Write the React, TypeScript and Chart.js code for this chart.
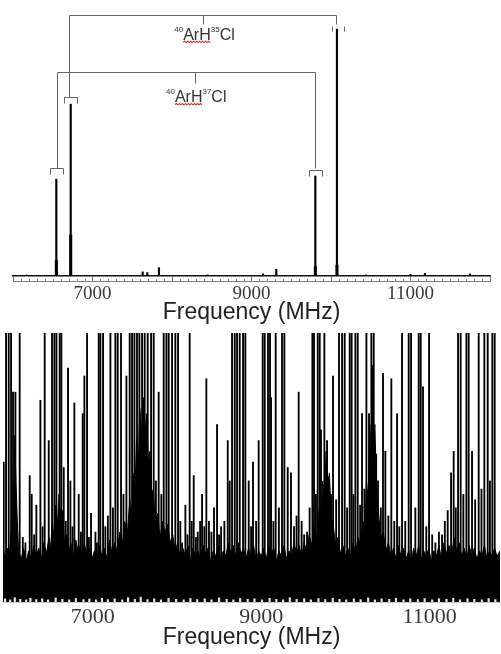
import { useEffect, useRef } from "react";
import { Chart, registerables } from "chart.js";

Chart.register(...registerables);

// ---------- Upper panel: ArHCl rotational lines ----------
// [frequency MHz, relative intensity]
const overviewPeaks: [number, number][] = [
  [6545, 37.2],
  [6726, 66.0],
  [9803, 38.4],
  [10075, 94.8],
];
// broadened feet of the strong lines
const overviewFeet: [number, number][] = [
  [6545, 6.1],
  [6726, 15.7],
  [9803, 3.6],
  [10075, 4.2],
];
// weak features along the baseline
const overviewWeak: [number, number][] = [
  [6172, 0.4],
  [7631, 1.6],
  [7689, 1.3],
  [7836, 3.2],
  [8449, 0.4],
  [9145, 0.8],
  [9312, 2.6],
  [10440, 0.4],
  [11000, 0.6],
  [11182, 1.0],
  [11748, 0.8],
];
const overviewTickLabels = [7000, 9000, 11000];

// ---------- Lower panel: full survey scan ----------
// [frequency MHz, relative intensity]; lines above 100 run off the top
const surveyLines: [number, number][] = [
  [5924, 120], [5944, 52], [5971, 120], [6003, 120], [6031, 120], [6054, 78], [6082, 78], [6133, 120],
  [6170, 24], [6201, 22], [6252, 47], [6276, 40], [6305, 25], [6331, 36], [6379, 75], [6405, 28],
  [6430, 120], [6478, 60], [6517, 120], [6545, 120], [6569, 120], [6608, 120], [6628, 120], [6656, 50],
  [6680, 30], [6707, 87], [6735, 45], [6760, 28], [6782, 74], [6834, 40], [6860, 26], [6881, 70],
  [6901, 84], [6933, 120], [6955, 24], [6980, 33], [7032, 26], [7050, 22], [7071, 120], [7091, 120],
  [7123, 120], [7150, 28], [7180, 32], [7210, 120], [7240, 35], [7269, 120], [7297, 120], [7336, 120],
  [7365, 40], [7400, 84], [7439, 120], [7467, 120], [7495, 120], [7526, 120], [7554, 120], [7586, 120],
  [7617, 120], [7653, 120], [7693, 120], [7724, 120], [7750, 45], [7783, 78], [7815, 40], [7843, 120],
  [7875, 120], [7902, 120], [7942, 120], [7981, 120], [8013, 120], [8040, 30], [8061, 22], [8100, 36],
  [8125, 25], [8151, 120], [8175, 30], [8199, 47], [8225, 24], [8247, 26], [8275, 30], [8298, 40],
  [8325, 28], [8349, 83], [8380, 30], [8409, 26], [8440, 35], [8476, 66], [8500, 25], [8524, 28],
  [8563, 30], [8603, 60], [8626, 45], [8654, 120], [8686, 120], [8713, 120], [8745, 120], [8785, 120],
  [8812, 120], [8852, 45], [8880, 28], [8903, 52], [8940, 30], [8970, 60], [9018, 120], [9042, 120],
  [9081, 120], [9105, 120], [9117, 76], [9145, 30], [9172, 120], [9210, 35], [9247, 120], [9275, 120],
  [9315, 50], [9354, 48], [9390, 28], [9420, 32], [9445, 78], [9480, 30], [9510, 25], [9544, 26],
  [9575, 35], [9608, 120], [9627, 120], [9650, 40], [9671, 120], [9695, 120], [9710, 64], [9750, 120],
  [9782, 60], [9830, 40], [9853, 84], [9890, 38], [9924, 120], [9960, 120], [9991, 120], [10020, 35],
  [10051, 120], [10074, 120], [10095, 40], [10118, 120], [10146, 120], [10175, 36], [10197, 70], [10225, 42],
  [10249, 120], [10280, 70], [10308, 120], [10336, 120], [10365, 55], [10387, 45], [10420, 35], [10446, 85],
  [10474, 56], [10510, 32], [10545, 83], [10580, 30], [10613, 70], [10640, 28], [10672, 120], [10710, 30],
  [10751, 120], [10779, 120], [10830, 35], [10870, 120], [10894, 120], [10921, 80], [10960, 28], [10993, 120],
  [11030, 25], [11068, 22], [11110, 26], [11147, 25], [11180, 30], [11214, 34], [11254, 48], [11285, 56],
  [11310, 35], [11337, 120], [11368, 120], [11400, 40], [11436, 120], [11463, 120], [11503, 56], [11540, 38],
  [11582, 120], [11615, 42], [11649, 120], [11689, 120], [11715, 45], [11744, 120], [11772, 120],
];
// noise floor and the unresolved line clusters rising out of it
const surveyFloor: [number, number][] = [
  [5900, 17], [5930, 21], [5960, 16], [5990, 20], [6010, 17], [6035, 28], [6050, 45], [6065, 38],
  [6075, 62], [6090, 44], [6105, 30], [6120, 19], [6150, 16], [6180, 20], [6210, 15], [6240, 19],
  [6270, 16], [6300, 21], [6330, 17], [6360, 20], [6390, 16], [6420, 22], [6450, 18], [6480, 24],
  [6500, 20], [6520, 30], [6540, 24], [6560, 36], [6580, 28], [6600, 40], [6620, 31], [6640, 34],
  [6665, 22], [6690, 25], [6715, 19], [6740, 22], [6770, 17], [6800, 23], [6830, 18], [6850, 21],
  [6880, 16], [6900, 22], [6930, 17], [6960, 20], [6990, 16], [7020, 19], [7050, 15], [7080, 21],
  [7110, 17], [7140, 20], [7170, 16], [7200, 23], [7230, 18], [7260, 22], [7290, 19], [7320, 26],
  [7350, 21], [7380, 30], [7410, 25], [7440, 38], [7460, 30], [7480, 48], [7500, 40], [7520, 60],
  [7540, 50], [7560, 72], [7580, 60], [7600, 76], [7620, 62], [7640, 70], [7660, 52], [7680, 56],
  [7700, 40], [7720, 42], [7740, 30], [7770, 33], [7800, 24], [7830, 30], [7860, 26], [7890, 29],
  [7920, 22], [7950, 25], [7980, 19], [8010, 22], [8040, 16], [8070, 20], [8100, 17], [8130, 21],
  [8160, 15], [8190, 20], [8220, 17], [8250, 19], [8280, 16], [8310, 21], [8340, 18], [8370, 20],
  [8400, 15], [8430, 19], [8460, 17], [8490, 21], [8520, 16], [8550, 19], [8580, 17], [8610, 22],
  [8640, 18], [8670, 21], [8700, 17], [8730, 22], [8760, 18], [8790, 20], [8820, 16], [8850, 20],
  [8880, 17], [8910, 21], [8940, 15], [8970, 19], [9000, 17], [9030, 20], [9060, 16], [9090, 21],
  [9120, 18], [9150, 20], [9180, 15], [9210, 19], [9240, 17], [9270, 21], [9300, 16], [9330, 19],
  [9360, 17], [9390, 22], [9420, 18], [9450, 21], [9480, 17], [9510, 22], [9540, 19], [9570, 25],
  [9600, 21], [9630, 28], [9660, 24], [9690, 35], [9710, 30], [9730, 45], [9750, 38], [9770, 56],
  [9790, 44], [9810, 48], [9830, 32], [9850, 30], [9880, 22], [9910, 24], [9940, 18], [9970, 21],
  [10000, 17], [10030, 20], [10060, 17], [10090, 22], [10120, 18], [10150, 24], [10180, 21], [10210, 30],
  [10230, 26], [10250, 45], [10270, 38], [10290, 66], [10305, 55], [10320, 88], [10335, 62], [10350, 66],
  [10370, 40], [10390, 34], [10420, 24], [10450, 26], [10480, 19], [10510, 22], [10540, 17], [10570, 20],
  [10600, 16], [10630, 21], [10660, 17], [10690, 20], [10720, 16], [10750, 19], [10780, 15], [10810, 20],
  [10840, 17], [10870, 21], [10900, 16], [10930, 19], [10960, 17], [10990, 20], [11020, 15], [11050, 19],
  [11080, 17], [11110, 21], [11140, 16], [11170, 22], [11200, 18], [11230, 21], [11260, 17], [11290, 24],
  [11320, 19], [11350, 22], [11380, 17], [11410, 20], [11440, 16], [11470, 21], [11500, 17], [11530, 20],
  [11560, 16], [11590, 19], [11620, 17], [11650, 21], [11680, 16], [11710, 19], [11740, 17], [11770, 20],
  [11800, 17], [11835, 19],
];
// pale gaps where the noise dips to the baseline
const surveyDips: [number, number][] = [
  [5960, 1.2], [6020, 0.8], [6075, 1.6], [6140, 1.0], [6210, 0.8], [6260, 1.4], [6330, 0.9], [6400, 1.2],
  [6470, 0.8], [6560, 1.5], [6640, 1.0], [6720, 0.8], [6800, 1.3], [6890, 0.9], [6960, 1.1], [7040, 0.8],
  [7110, 1.4], [7180, 0.9], [7260, 1.2], [7350, 0.8], [7420, 1.6], [7500, 1.0], [7570, 1.8], [7650, 0.9],
  [7730, 1.2], [7810, 0.8], [7900, 1.4], [7990, 1.0], [8080, 0.8], [8160, 1.3], [8240, 0.9], [8330, 1.2],
  [8410, 0.8], [8500, 1.5], [8590, 1.0], [8670, 0.8], [8750, 1.3], [8840, 1.0], [8920, 1.2], [9010, 0.8],
  [9100, 1.4], [9180, 1.0], [9260, 0.8], [9340, 1.6], [9420, 1.0], [9510, 1.2], [9590, 0.8], [9680, 1.3],
  [9760, 0.9], [9850, 1.4], [9930, 1.0], [10010, 0.8], [10100, 1.2], [10180, 0.9], [10270, 1.5], [10350, 0.8],
  [10430, 1.2], [10520, 1.0], [10600, 1.4], [10690, 0.8], [10770, 1.2], [10860, 0.9], [10940, 1.3], [11030, 0.8],
  [11110, 1.2], [11200, 1.0], [11280, 1.4], [11360, 0.8], [11450, 1.2], [11530, 1.0], [11620, 0.8], [11700, 1.3],
  [11780, 0.9],
];
const surveyTickValues = [7000, 9000, 11000];

// ---------- Assignment brackets (frequency MHz / intensity units) ----------
type Tag = { from: number; to: number; top: number; foot: number; open?: boolean };
type Assignment = {
  isotope: string;
  left: number;
  right: number;
  level: number;
  stem: number;
  stemEnd: number;
  labelBase: number;
  leftTag: Tag;
  rightTag: Tag;
};
const assignments: Assignment[] = [
  {
    isotope: "35",
    left: 6709,
    right: 10063,
    level: 100.3,
    stem: 8390,
    stemEnd: 96.8,
    labelBase: 90.6,
    leftTag: { from: 6645, to: 6809, top: 68.6, foot: 66.4 },
    rightTag: { from: 10009, to: 10160, top: 96.0, foot: 94.1, open: true },
  },
  {
    isotope: "37",
    left: 6550,
    right: 9803,
    level: 78.3,
    stem: 8286,
    stemEnd: 74.2,
    labelBase: 66.7,
    leftTag: { from: 6469, to: 6633, top: 41.4, foot: 39.2 },
    rightTag: { from: 9723, to: 9887, top: 40.7, foot: 38.4 },
  },
];

const SERIF = "'Liberation Serif', 'Times New Roman', serif";
const SANS = "'Liberation Sans', Arial, sans-serif";

const toPoints = (rows: [number, number][]) => rows.map(([x, y]) => ({ x, y }));

// lower rail of the frequency axis with its 100 MHz minor ticks
const axisRail = {
  id: "axisRail",
  afterDraw(chart: any) {
    const { ctx, chartArea } = chart;
    const x = chart.scales.x;
    const y0 = Math.round(chartArea.bottom);
    ctx.save();
    ctx.strokeStyle = "#808080";
    ctx.lineWidth = 1;
    ctx.beginPath();
    ctx.moveTo(chartArea.left, y0 + 5.5);
    ctx.lineTo(chartArea.right, y0 + 5.5);
    for (const t of x.ticks) {
      if (t.value % 1000 === 0) continue;
      const px = Math.round(x.getPixelForValue(t.value)) + 0.5;
      ctx.moveTo(px, y0 + 3);
      ctx.lineTo(px, y0 + 5);
    }
    ctx.stroke();
    ctx.restore();
  },
};

function drawFormula(ctx: CanvasRenderingContext2D, cx: number, base: number, iso: string) {
  const big = `16px ${SANS}`;
  const small = `8px ${SANS}`;
  const parts = [
    { t: "40", sup: true },
    { t: "ArH", sup: false },
    { t: iso, sup: true },
    { t: "Cl", sup: false },
  ];
  const widths = parts.map((p) => {
    ctx.font = p.sup ? small : big;
    return ctx.measureText(p.t).width;
  });
  const total = widths.reduce((a, b) => a + b, 0);
  let x = cx - total / 2;
  ctx.fillStyle = "#333";
  ctx.textBaseline = "alphabetic";
  ctx.textAlign = "left";
  let span: [number, number] | null = null;
  parts.forEach((p, i) => {
    ctx.font = p.sup ? small : big;
    ctx.fillText(p.t, x, p.sup ? base - 8.5 : base);
    if (p.t === "ArH") span = [x, x + widths[i]];
    x += widths[i];
  });
  if (span) {
    // red wavy underline beneath "ArH"
    const [a, b] = span as [number, number];
    ctx.save();
    ctx.strokeStyle = "#e02828";
    ctx.lineWidth = 1.1;
    ctx.beginPath();
    let up = true;
    ctx.moveTo(a, base + 2.2);
    for (let px = a + 1.5; px <= b; px += 1.5) {
      ctx.lineTo(px, up ? base + 1.1 : base + 2.5);
      up = !up;
    }
    ctx.stroke();
    ctx.restore();
  }
}

// group brackets linking the components of each isotopologue, with labels
const assignmentBrackets = {
  id: "assignmentBrackets",
  afterDatasetsDraw(chart: any) {
    const { ctx } = chart;
    const xs = chart.scales.x;
    const ys = chart.scales.y;
    const X = (v: number) => Math.round(xs.getPixelForValue(v)) + 0.5;
    const Y = (v: number) => Math.round(ys.getPixelForValue(v)) + 0.5;
    for (const a of assignments) {
      ctx.save();
      ctx.strokeStyle = "#666";
      ctx.lineWidth = 1;
      ctx.beginPath();
      ctx.moveTo(X(a.left), Y(a.level));
      ctx.lineTo(X(a.right), Y(a.level));
      ctx.moveTo(X(a.stem), Y(a.level));
      ctx.lineTo(X(a.stem), Y(a.stemEnd));
      ctx.moveTo(X(a.left), Y(a.level));
      ctx.lineTo(X(a.left), Y(a.leftTag.top));
      ctx.moveTo(X(a.right), Y(a.level));
      ctx.lineTo(X(a.right), Y(a.rightTag.top) - 2);
      for (const t of [a.leftTag, a.rightTag]) {
        if (!t.open) {
          ctx.moveTo(X(t.from), Y(t.foot));
          ctx.lineTo(X(t.from), Y(t.top));
          ctx.lineTo(X(t.to), Y(t.top));
          ctx.lineTo(X(t.to), Y(t.foot));
        } else {
          ctx.moveTo(X(t.from), Y(t.top));
          ctx.lineTo(X(t.from), Y(t.foot));
          ctx.moveTo(X(t.to), Y(t.top));
          ctx.lineTo(X(t.to), Y(t.foot));
        }
      }
      ctx.stroke();
      ctx.restore();
      ctx.save();
      drawFormula(ctx, xs.getPixelForValue(a.stem) + 1.5, ys.getPixelForValue(a.labelBase), a.isotope);
      ctx.restore();
    }
  },
};

function OverviewPanel() {
  const ref = useRef<HTMLCanvasElement>(null);
  useEffect(() => {
    if (!ref.current) return;
    const chart = new Chart(ref.current, {
      type: "bar",
      data: {
        datasets: [
          { data: toPoints(overviewFeet) as any, backgroundColor: "#000", barThickness: 2.4, grouped: false },
          { data: toPoints(overviewPeaks) as any, backgroundColor: "#000", barThickness: 1.5, grouped: false },
          { data: toPoints(overviewWeak) as any, backgroundColor: "#000", barThickness: 1.5, grouped: false },
        ],
      },
      options: {
        animation: false,
        responsive: false,
        devicePixelRatio: 1,
        layout: { padding: { left: 13, right: 11, top: 0, bottom: 0 } },
        plugins: { legend: { display: false }, tooltip: { enabled: false } },
        scales: {
          x: {
            type: "linear",
            min: 6000,
            max: 12000,
            offset: false,
            grid: {
              offset: false,
              drawOnChartArea: false,
              drawTicks: true,
              tickLength: 6,
              tickWidth: 1,
              tickColor: (c: any) => (c.tick && c.tick.value % 1000 === 0 ? "#777" : "rgba(0,0,0,0)"),
            },
            border: { display: true, color: "#111", width: 1.6 },
            ticks: {
              stepSize: 100,
              autoSkip: false,
              maxRotation: 0,
              padding: 1,
              color: "#3a3a3a",
              font: { family: SERIF, size: 19 },
              callback: (v: any) => (overviewTickLabels.includes(Number(v)) ? String(v) : ""),
            },
            title: {
              display: true,
              text: "Frequency (MHz)",
              color: "#222",
              font: { family: SANS, size: 23 },
              padding: { top: 0, bottom: 4 },
            },
            afterFit: (s: any) => {
              s.height = 54;
            },
          } as any,
          y: { display: false, min: 0, max: 106 },
        },
      },
      plugins: [axisRail, assignmentBrackets],
    });
    return () => chart.destroy();
  }, []);
  return (
    <canvas
      ref={ref}
      width={501}
      height={330}
      style={{ position: "absolute", left: 0, top: 0, width: 501, height: 330 }}
    />
  );
}

function SurveyPanel() {
  const ref = useRef<HTMLCanvasElement>(null);
  useEffect(() => {
    if (!ref.current) return;
    const chart = new Chart(ref.current, {
      type: "bar",
      data: {
        datasets: [
          {
            type: "line",
            data: toPoints(surveyFloor) as any,
            fill: "origin",
            backgroundColor: "#000",
            borderColor: "#000",
            borderWidth: 1,
            pointRadius: 0,
            tension: 0,
            order: 3,
          } as any,
          {
            data: toPoints(surveyLines) as any,
            backgroundColor: "#000",
            barThickness: 1.2,
            grouped: false,
            order: 2,
          },
          {
            data: toPoints(surveyDips) as any,
            backgroundColor: "#e8e8e8",
            barThickness: 1.5,
            grouped: false,
            order: 1,
          },
        ],
      },
      options: {
        animation: false,
        responsive: false,
        devicePixelRatio: 1,
        layout: { padding: { left: 3, right: 1, top: 3, bottom: 0 } },
        plugins: { legend: { display: false }, tooltip: { enabled: false } },
        scales: {
          x: {
            type: "linear",
            min: 5935,
            max: 11835,
            offset: false,
            grid: { display: false, drawTicks: false, offset: false },
            border: { display: true, color: "#c8c8c8", width: 1 },
            afterBuildTicks: (s: any) => {
              s.ticks = surveyTickValues.map((value) => ({ value }));
            },
            ticks: {
              autoSkip: false,
              maxRotation: 0,
              padding: 2,
              color: "#3a3a3a",
              font: { family: SERIF, size: 22 },
              callback: (v: any) => String(v),
            },
            title: {
              display: true,
              text: "Frequency (MHz)",
              color: "#222",
              font: { family: SANS, size: 23 },
              padding: { top: 0, bottom: 3 },
            },
            afterFit: (s: any) => {
              s.height = 52;
            },
          } as any,
          y: { display: false, min: 0, max: 100 },
        },
      },
    });
    return () => chart.destroy();
  }, []);
  return (
    <canvas
      ref={ref}
      width={501}
      height={324}
      style={{ position: "absolute", left: 0, top: 330, width: 501, height: 324 }}
    />
  );
}

export default function App() {
  return (
    <div style={{ position: "absolute", left: 0, top: 0, width: 501, height: 654, background: "#fff" }}>
      <OverviewPanel />
      <SurveyPanel />
    </div>
  );
}
